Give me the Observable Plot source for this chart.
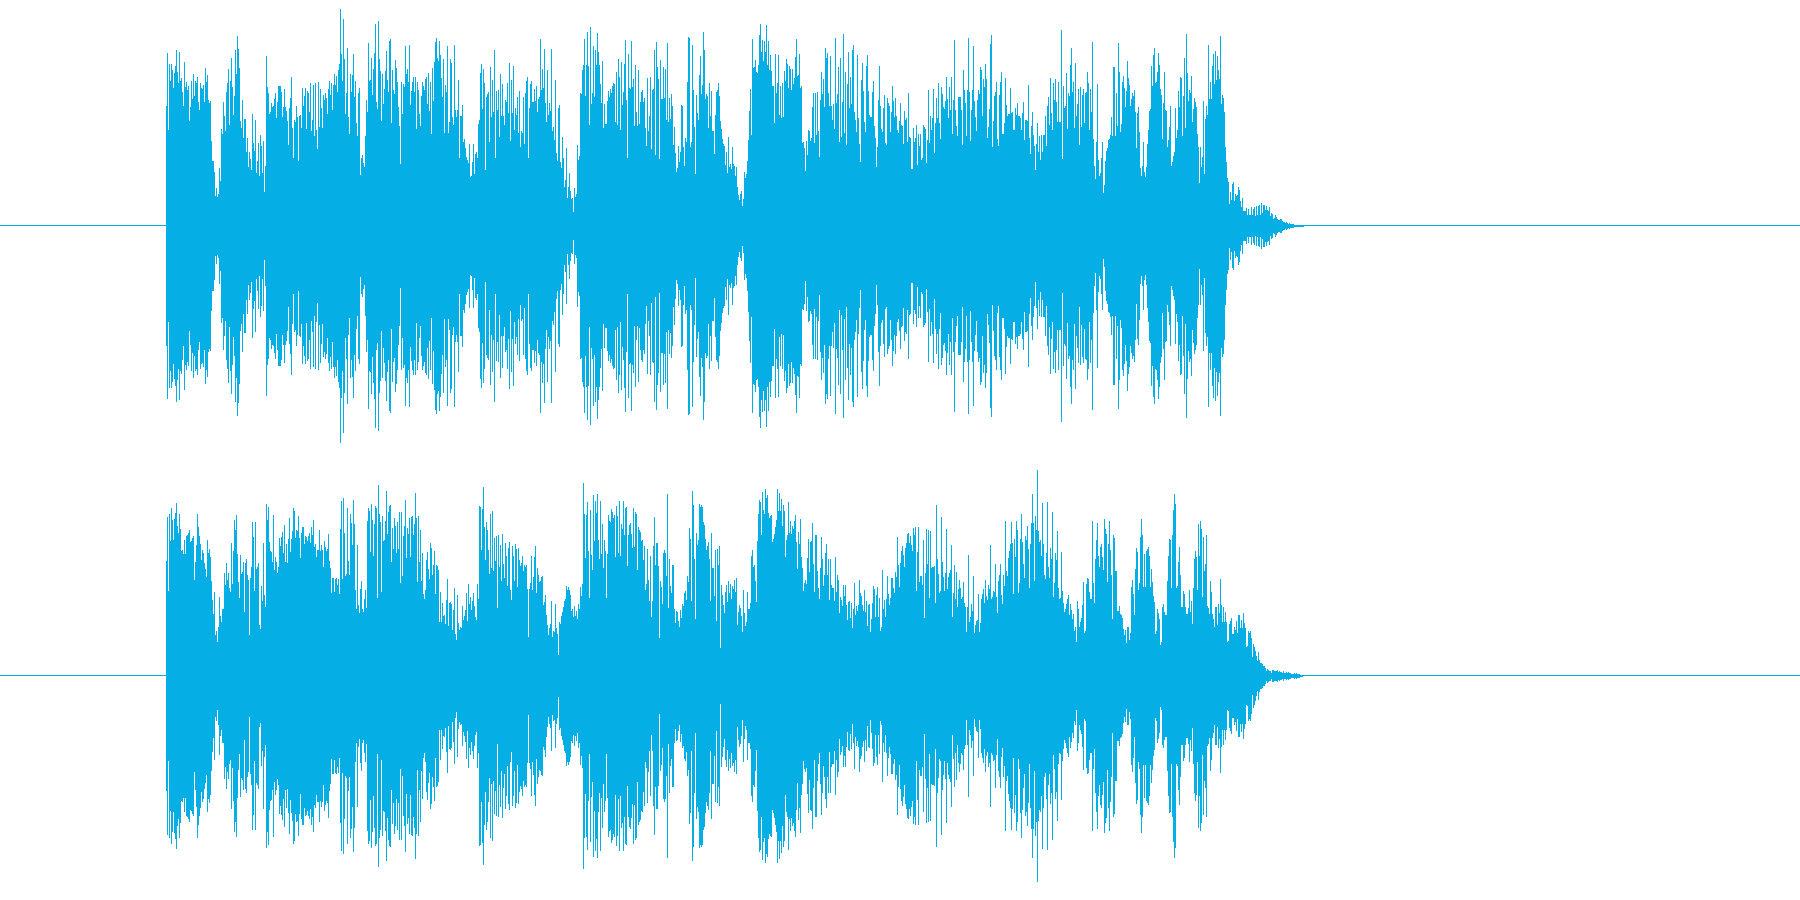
<!DOCTYPE html>
<html>
<head>
<meta charset="utf-8">
<script src="https://cdn.jsdelivr.net/npm/d3@7"></script>
<script src="https://cdn.jsdelivr.net/npm/@observablehq/plot@0.6"></script>
<style>html,body{margin:0;padding:0;background:#fff}svg{display:block}</style>
</head>
<body>
<div id="chart"></div>
<script>
const channels = ["A", "B"];
const waveColor = "#06AEE6";
const firstColumn = 166, firstSpan = 24, rowSpan = 30, fullScale = 225, totalColumns = 1800;

// Peak amplitude per time column (both channels mirror around zero).
const channelA = [
[120,173,96,162,145,162,156,138,153,160,176,154,143,174,145,148,134,120,164,139,144,136,140,105],
[119,145,127,152,130,145,143,149,124,116,143,138,137,141,124,158,144,151,126,123,125,85,65,65,54,30,38,29,32,58],
[45,97,92,124,110,95,134,143,157,101,145,168,139,111,130,176,152,190,177,158,105,98,126,88,107,107,74,88,59,74],
[67,56,112,83,75,106,53,65,83,50,91,80,53,85,34,60,170,139,133,112,114,123,119,120,127,133,108,124,140,140],
[140,134,109,119,137,119,115,105,81,118,128,149,98,68,106,104,120,109,65,110,111,98,138,120,130,138,97,135,133,114],
[143,95,106,141,90,143,96,77,144,99,137,118,98,131,126,133,128,112,137,145,131,143,116,141,152,141,150,134,156,162],
[217,172,145,207,167,112,133,178,109,92,152,134,151,172,129,145,103,90,133,138,51,68,71,63,59,90,126,114,183,145],
[146,168,131,157,173,202,124,117,205,167,155,105,152,122,137,155,175,146,134,185,187,103,156,136,132,166,158,144,119,100],
[62,144,112,142,139,180,152,157,144,181,121,135,144,149,134,149,97,144,136,112,100,130,144,140,136,147,149,122,153,115],
[144,92,158,125,164,184,188,168,165,185,171,148,129,167,93,141,134,180,93,104,167,163,109,101,181,116,109,116,146,68],
[110,110,121,84,87,78,69,66,63,82,49,50,64,82,52,72,74,68,102,106,153,162,117,157,143,56,129,132,134,84],
[159,109,146,114,176,68,135,116,136,89,152,110,142,110,101,126,124,143,113,163,85,146,113,160,96,118,111,129,93,135],
[79,95,93,129,82,133,145,149,68,118,142,145,124,124,137,125,140,114,127,129,187,136,157,138,177,123,104,156,111,123],
[115,177,95,99,86,146,73,65,118,121,64,58,89,68,39,46,78,28,39,53,35,27,28,14,38,29,32,81,66,70],
[133,132,156,161,187,130,161,194,160,101,199,122,133,180,129,176,161,193,174,161,142,123,165,98,122,102,102,125,135,129],
[137,133,140,143,142,104,154,101,167,149,96,164,121,134,162,186,126,68,172,138,137,185,139,147,100,161,114,100,156,102],
[124,134,136,124,128,98,80,148,95,110,149,77,136,137,176,71,184,159,147,67,166,127,127,159,128,157,106,183,104,128],
[107,132,120,81,99,73,54,58,80,64,74,121,120,79,60,88,84,144,189,188,79,84,181,136,99,52,131,113,106,151],
[170,132,141,194,176,127,132,130,98,143,110,135,95,95,72,111,134,136,143,130,105,97,87,82,80,61,74,53,89,59],
[62,57,79,62,60,50,59,39,31,26,32,35,20,27,54,48,52,65,86,115,137,91,187,158,159,166,154,153,161,191],
[202,174,186,165,185,174,201,161,185,156,171,155,140,140,103,172,133,143,171,111,140,108,143,109,155,145,167,162,138,160],
[157,136,157,142,148,169,187,150,151,172,138,140,83,84,78,55,85,71,96,95,85,88,119,133,83,133,91,134,95,69],
[126,154,132,147,119,178,168,173,133,120,170,120,106,122,97,188,123,132,159,84,168,89,124,192,93,154,81,142,174,118],
[149,122,176,181,114,106,94,171,108,82,64,146,163,135,104,94,160,171,135,111,109,109,134,145,100,88,59,79,126,160],
[120,97,94,118,131,83,81,128,123,120,94,114,140,125,109,128,110,96,93,105,123,101,100,82,115,106,108,84,133,89],
[88,57,57,98,84,88,101,61,92,80,92,66,68,101,99,97,63,86,136,83,110,96,108,137,73,103,128,108,143,103],
[87,139,132,119,117,125,149,127,108,139,116,149,92,126,186,116,100,90,129,129,129,116,81,156,136,123,90,136,188,134],
[85,116,136,180,125,109,95,126,136,132,159,156,110,147,139,162,147,88,99,117,182,191,79,105,130,134,144,87,80,131],
[144,154,92,92,103,148,121,110,112,112,138,113,114,96,96,118,111,123,110,110,108,96,113,124,86,106,106,105,141,88],
[72,100,114,91,80,56,82,103,74,90,66,91,74,91,91,110,80,120,129,101,148,113,96,143,126,147,124,104,144,104],
[104,196,67,140,118,120,153,97,133,130,161,178,134,144,98,163,110,122,137,81,139,99,131,137,103,133,134,154,143,96],
[137,114,184,87,60,47,84,142,66,50,53,68,84,33,41,65,75,78,86,87,91,109,90,159,159,90,133,100,183,154],
[94,102,144,150,138,119,135,165,148,141,120,127,133,130,136,114,78,113,119,94,58,50,60,84,54,49,59,82,96,115],
[117,160,140,171,178,143,144,154,173,161,137,131,87,123,154,116,115,79,86,99,120,60,64,70,74,118,88,96,135,119],
[149,148,90,130,168,98,192,153,125,136,133,150,104,117,128,124,119,92,79,43,79,59,69,125,52,107,120,111,181,127],
[144,127,160,172,142,175,146,170,156,147,190,122,131,128,114,79,64,48,44,22,34,26,42,44,25,32,30,31,39,36],
[25,19,28,15,15,15,18,11,17,11,11,19,11,17,19,10,20,11,20,21,11,23,13,21,21,16,20,16,15,19],
[10,13,12,7,8,11,9,7,6,6,7,7,5,4,4,3,4,3,2,3,2,2,2,2,1,1,1,1,1,1],
[1,1,1,1]
];
const channelB = [
[115,159,85,162,135,168,156,136,157,163,173,150,143,162,147,125,126,122,136,122,140,141,143,146],
[134,135,138,140,96,114,131,162,149,140,132,116,126,123,113,107,99,136,123,127,119,95,76,62,84,41,45,34,49,79],
[60,54,67,67,103,91,113,96,103,88,84,133,92,125,156,146,161,122,94,78,121,102,104,114,64,113,117,101,96,41],
[98,109,154,139,85,154,107,109,113,51,47,90,75,133,81,69,172,156,169,134,125,124,114,161,106,119,114,103,109,138],
[130,139,144,123,151,114,132,113,137,158,124,137,145,168,165,138,146,145,160,138,118,143,149,149,132,140,139,135,140,143],
[133,149,141,156,129,132,119,126,126,146,125,131,126,109,135,129,125,127,142,115,108,83,98,98,84,97,98,91,97,82],
[147,175,97,178,143,100,102,168,115,101,162,153,131,176,152,86,67,131,71,63,87,95,67,64,77,86,68,155,168,165],
[124,172,156,120,152,170,168,78,191,162,154,84,160,135,136,155,185,142,164,170,171,114,148,127,158,150,123,154,127,164],
[93,164,100,140,150,176,118,148,142,158,119,159,160,141,152,183,158,94,160,114,146,95,123,82,77,86,116,124,107,97],
[133,128,101,111,125,82,111,110,106,54,84,54,73,60,61,52,76,97,50,73,74,72,46,66,88,42,36,81,53,46],
[49,48,70,56,60,66,83,55,92,72,79,66,75,83,70,59,56,92,77,170,169,126,167,189,149,116,154,146,126,102],
[162,108,165,105,138,115,140,68,141,109,131,95,142,112,98,133,120,90,128,134,86,76,130,120,95,132,127,89,128,116],
[110,113,120,105,111,109,111,87,39,87,93,120,86,99,119,130,83,108,101,94,95,99,100,71,74,81,61,51,41,48],
[52,75,39,45,44,72,48,42,21,54,52,60,64,69,75,77,90,86,89,86,81,65,67,59,70,60,65,57,72,67],
[89,80,92,193,162,118,161,174,125,78,166,121,106,181,135,175,163,182,136,117,175,122,152,108,136,125,78,122,161,155],
[154,167,164,158,161,119,170,160,123,175,120,152,147,175,141,168,169,110,141,151,153,142,128,168,129,164,162,106,149,146],
[144,135,136,116,130,86,92,127,96,75,120,59,75,130,159,111,133,133,110,38,95,89,72,123,126,123,100,182,68,117],
[90,83,111,111,67,53,65,64,55,49,66,58,72,70,83,85,76,100,94,148,137,75,185,171,117,57,143,131,136,172],
[169,171,169,154,151,137,126,130,134,117,75,143,108,108,80,126,55,127,111,130,28,91,81,71,63,84,91,74,95,83],
[92,77,90,87,96,84,98,51,64,71,68,60,44,86,63,50,54,84,67,67,73,120,126,109,111,95,74,135,162,176],
[174,141,184,166,162,187,178,181,163,158,160,161,134,137,142,149,156,187,165,183,165,177,150,171,165,119,136,141,174,143],
[155,142,150,147,155,161,134,107,144,132,157,119,108,85,93,96,92,118,137,104,134,135,153,112,84,141,141,105,88,77],
[108,139,117,90,101,123,132,101,117,76,117,91,88,88,75,119,84,101,96,63,79,76,70,91,80,91,71,56,74,75],
[58,73,48,67,93,61,70,65,71,96,83,80,71,65,86,64,75,50,71,72,44,57,73,90,87,59,81,89,59,78],
[45,49,106,67,76,59,77,100,82,71,78,98,98,88,83,104,99,139,111,89,113,125,130,121,109,128,133,142,143,133],
[140,131,125,148,141,149,85,124,149,94,100,100,91,136,58,103,147,112,146,78,145,108,109,109,110,73,171,117,102,83],
[85,159,114,99,85,103,147,87,99,103,106,131,59,83,111,77,104,69,87,96,88,77,79,94,73,69,44,69,121,54],
[59,72,65,100,43,51,55,56,82,44,53,77,82,87,73,96,80,76,91,87,131,77,79,85,84,112,79,63,95,101],
[112,81,72,101,90,155,105,100,118,125,132,154,133,82,137,119,155,146,83,93,137,162,134,112,98,140,136,150,127,88],
[132,153,182,153,95,160,146,206,145,134,136,120,173,132,101,97,123,174,109,98,128,117,164,79,93,123,116,145,88,77],
[78,124,85,73,64,67,72,77,81,61,72,66,57,62,45,49,34,75,67,49,54,58,71,94,43,45,92,98,97,84],
[77,77,155,93,73,117,136,153,120,109,129,132,119,106,157,147,142,94,132,155,126,101,57,141,138,105,105,65,65,70],
[62,61,58,47,41,46,33,49,49,36,43,89,96,82,61,107,128,124,86,93,139,157,141,89,122,89,125,127,129,120],
[89,107,94,80,74,42,45,67,63,57,31,34,69,72,64,61,61,95,120,137,136,88,141,166,182,172,88,90,114,129],
[101,69,69,85,82,69,62,62,68,86,64,75,52,88,117,125,119,86,152,120,155,147,79,139,105,112,141,70,68,62],
[95,84,62,57,49,69,69,51,72,63,97,71,54,69,54,64,54,34,35,52,55,58,42,42,49,46,55,43,61,61],
[48,56,48,63,53,48,29,30,45,43,45,38,19,32,29,25,20,15,24,16,13,13,12,10,10,8,5,7,6,5],
[5,3,6,6,5,5,5,6,4,5,4,4,3,5,3,3,4,3,4,3,3,2,2,2,3,2,3,2,2,2],
[1,1,1]
];

function toColumns(rows, channel) {
  const out = [];
  rows.forEach((row, r) => {
    const start = r === 0 ? firstColumn : firstColumn + firstSpan + (r - 1) * rowSpan;
    const span = r === 0 ? firstSpan : r === rows.length - 1 ? row.length : rowSpan;
    row.forEach((amp, i) => out.push({
      channel,
      t0: start + Math.round(i * span / row.length),
      t1: start + Math.round((i + 1) * span / row.length),
      amp
    }));
  });
  return out;
}

const columns = [...toColumns(channelA, "A"), ...toColumns(channelB, "B")];

const chart = Plot.plot({
  width: 1800,
  height: 900,
  margin: 0,
  style: {background: "#fff"},
  x: {domain: [0, totalColumns], axis: null},
  y: {domain: [-fullScale, fullScale], axis: null},
  fy: {domain: channels, padding: 0, axis: null},
  marks: [
    Plot.ruleY(channels.map(channel => ({channel})), {y: () => 0, fy: "channel", stroke: waveColor, strokeWidth: 1}),
    Plot.rectY(columns, {
      x1: "t0", x2: "t1",
      y1: d => -d.amp, y2: d => d.amp,
      fy: "channel",
      fill: waveColor,
      dy: 0.5,
      inset: 0,
      shapeRendering: "crispEdges"
    })
  ]
});
document.getElementById("chart").appendChild(chart);
</script>
</body>
</html>
